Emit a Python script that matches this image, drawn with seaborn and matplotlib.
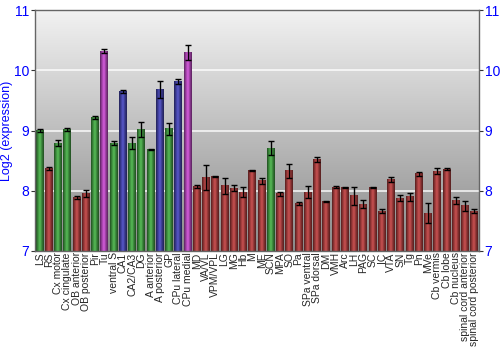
import numpy as np
import pandas as pd
import matplotlib
matplotlib.use("Agg")
import matplotlib.pyplot as plt
import seaborn as sns
from matplotlib.colors import LinearSegmentedColormap, to_rgb

regions = ["LS", "RS", "Cx motor", "Cx cingulate", "OB anterior", "OB posterior", "Pir", "Tu",
           "ventral S", "CA1", "CA2/CA3", "DG", "A anterior", "A posterior", "GP", "CPu lateral",
           "CPu medial", "MD", "VA/VL", "VPM/VPL", "LG", "MG", "Hb", "M", "ME", "SCN", "MPA", "SO",
           "Pa", "SPa ventral", "SPa dorsal", "DM", "VMH", "Arc", "LH", "PAG", "SC", "IC", "VTA",
           "SN", "Tg", "Pn", "MVe", "Cb vermis", "Cb lobe", "Cb nucleus", "spinal cord anterior",
           "spinal cord posterior"]
values = [9.00, 8.37, 8.79, 9.02, 7.89, 7.95, 9.22, 10.32,
          8.79, 9.65, 8.79, 9.02, 8.68, 9.68, 9.03, 9.82,
          10.30, 8.07, 8.22, 8.24, 8.08, 8.04, 7.98, 8.34, 8.17, 8.71, 7.95, 8.33,
          7.79, 7.98, 8.52, 7.82, 8.06, 8.05, 7.92, 7.78, 8.06, 7.66, 8.19,
          7.88, 7.90, 8.28, 7.63, 8.32, 8.36, 7.84, 7.75, 7.66]
errors = [0.02, 0.02, 0.05, 0.03, 0.02, 0.06, 0.03, 0.03,
          0.03, 0.02, 0.10, 0.13, 0.01, 0.14, 0.10, 0.04,
          0.12, 0.03, 0.20, 0.01, 0.13, 0.05, 0.08, 0.01, 0.05, 0.11, 0.03, 0.11,
          0.02, 0.10, 0.04, 0.01, 0.02, 0.01, 0.15, 0.06, 0.01, 0.03, 0.04,
          0.05, 0.07, 0.03, 0.16, 0.05, 0.02, 0.06, 0.08, 0.03]
groups = ["g", "r", "g", "g", "r", "r", "g", "m",
          "g", "b", "g", "g", "g", "b", "g", "b",
          "m"] + ["r"] * 8 + ["g"] + ["r"] * 22

palette = {"g": "#2f9a2f", "r": "#a82828", "b": "#2e2ea8", "m": "#b030b8"}

df = pd.DataFrame({"region": regions, "value": values, "err": errors, "group": groups})

YMIN, YMAX = 7, 11

sns.set_style("white")
fig = plt.figure(figsize=(5, 3.5), dpi=100)
ax = fig.add_axes([0.07, 0.283, 0.888, 0.688])

sns.barplot(data=df, x="region", y="value", hue="group", palette=palette, dodge=False,
            order=regions, width=0.86, legend=False, ax=ax, zorder=2, errorbar=None,
            linewidth=0)

# background gradient
bg = np.linspace(0, 1, 256).reshape(-1, 1)
bgcmap = LinearSegmentedColormap.from_list("bg", ["#8a8a8a", "#f2f2f2"])
ax.imshow(bg, cmap=bgcmap, extent=[0, 1, 0, 1], transform=ax.transAxes,
          aspect="auto", origin="lower", zorder=0)

# cylinder-like shading on bars (only the visible part above the axis floor)
for p in ax.patches:
    c = np.array(to_rgb(p.get_facecolor()))
    cm = LinearSegmentedColormap.from_list(
        "bar", [c * 0.55, c * 1.0, np.minimum(c * 1.25 + 0.05, 1), c * 0.9, c * 0.55])
    x0, w = p.get_x(), p.get_width()
    top = p.get_y() + p.get_height()
    ax.imshow(np.linspace(0, 1, 64).reshape(1, -1), cmap=cm,
              extent=[x0, x0 + w, YMIN, top], aspect="auto", zorder=2.5)

ax.errorbar(np.arange(len(regions)), values, yerr=errors, fmt="none", ecolor="black",
            elinewidth=1.0, capsize=2, capthick=1.0, zorder=4)

for yv in [8, 9, 10]:
    ax.axhline(yv, color="white", lw=1.2, alpha=0.85, zorder=1)

ax.set_ylim(YMIN, YMAX)
ax.set_xlim(-0.5, len(regions) - 0.5)

ax.set_yticks([7, 8, 9, 10, 11])
ax.tick_params(axis="y", which="both", left=True, right=True, labelleft=True, labelright=True,
               labelcolor="blue", labelsize=10, length=3, pad=1, color="#333333")
ax.tick_params(axis="x", labelrotation=90, labelsize=7.5, length=0, pad=1)
for lab in ax.get_xticklabels():
    lab.set_fontfamily("Liberation Sans")
for lab in ax.get_yticklabels():
    lab.set_fontfamily("Liberation Sans")
ax.set_xlabel("")
ax.set_ylabel("Log2 (expression)", color="blue", fontsize=9, family="Liberation Sans", labelpad=1)

for s in ax.spines.values():
    s.set_color("#666666")
    s.set_linewidth(1)

fig.savefig("out.png", dpi=100)
